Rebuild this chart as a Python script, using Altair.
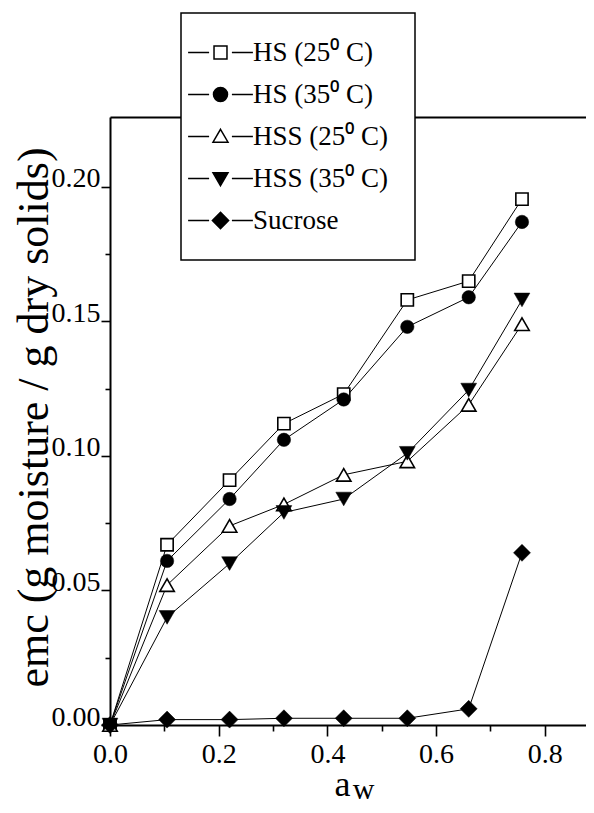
import altair as alt
import pandas as pd

# ---- data ----
aw = [0.0, 0.105, 0.22, 0.32, 0.43, 0.547, 0.66, 0.758]
hs_25 = [0.0, 0.067, 0.091, 0.112, 0.123, 0.158, 0.165, 0.1955]
hs_35 = [0.0, 0.061, 0.084, 0.106, 0.121, 0.148, 0.159, 0.187]
hss_25 = [0.0, 0.052, 0.074, 0.082, 0.093, 0.098, 0.119, 0.149]
hss_35 = [0.0, 0.040, 0.060, 0.079, 0.084, 0.101, 0.1245, 0.158]
sucrose = [0.0, 0.002, 0.002, 0.0025, 0.0025, 0.0025, 0.006, 0.064]

series_names = ["HS (25\u2070 C)", "HS (35\u2070 C)", "HSS (25\u2070 C)", "HSS (35\u2070 C)", "Sucrose"]
series_values = [hs_25, hs_35, hss_25, hss_35, sucrose]

x_ticks = [0.0, 0.2, 0.4, 0.6, 0.8]
x_minor = [0.1, 0.3, 0.5, 0.7]
y_ticks = [0.0, 0.05, 0.10, 0.15, 0.20]
y_minor = [0.025, 0.075, 0.125, 0.175]

rows = []
for name, vals in zip(series_names, series_values):
    for a, e in zip(aw, vals):
        rows.append({"aw": a, "emc": e, "series": name})
df = pd.DataFrame(rows)

FONT = "Liberation Serif"

xs = alt.Scale(domain=[0, 0.8758], nice=False, zero=False)
ys = alt.Scale(domain=[0, 0.226], nice=False, zero=False)

base = alt.Chart(df)

lines = base.mark_line(color="black", strokeWidth=1).encode(
    x=alt.X("aw:Q", scale=xs, axis=alt.Axis(
        orient="bottom", values=x_ticks, format=".1f", tickSize=11, tickWidth=1.6,
        domainWidth=2, labelFontSize=28, labelPadding=4, labelFlush=False,
        title="a", titleFontSize=36, titleFontWeight="normal",
        titleBaseline="alphabetic", titleY=70, titleX=232, titleAlign="center")),
    y=alt.Y("emc:Q", scale=ys, axis=alt.Axis(
        orient="left", values=y_ticks, format=".2f", tickSize=9, tickWidth=1.6,
        domainWidth=2, labelFontSize=28, labelPadding=1, labelBaseline="alphabetic",
        labelFlush=False,
        title="emc (g moisture / g dry solids)", titleFontSize=44,
        titleFontWeight="normal", titleAngle=270, titleBaseline="bottom",
        titleAlign="center", titleX=-54, titleY=300)),
    detail="series:N",
)

# marker styles per series: shape, fill, size
marker_shapes = ["square", "circle", "triangle-up", "triangle-down", "diamond"]
marker_fills = ["white", "black", "white", "black", "black"]
marker_sizes = [150, 180, 210, 250, 289]

point_layers = []
for name, shp, fil, sz in zip(series_names, marker_shapes, marker_fills, marker_sizes):
    point_layers.append(
        base.transform_filter(alt.datum.series == name)
        .mark_point(shape=shp, filled=True, fill=fil, stroke="black",
                    strokeWidth=1.6 if fil == "white" else 0.5, size=sz, opacity=1)
        .encode(
            x=alt.X("aw:Q", scale=xs, axis=None),
            y=alt.Y("emc:Q", scale=ys, axis=None),
        )
    )

# legend symbols: marker with a short line on each side
legend_paths = [
    "M-5.4,0L-1.9,0M-1.08,-1.08L1.08,-1.08L1.08,1.08L-1.08,1.08ZM1.9,0L5.4,0",
    "M-5.4,0L-1.9,0M1.17,0A1.17,1.17,0,1,1,-1.17,0A1.17,1.17,0,1,1,1.17,0ZM1.9,0L5.4,0",
    "M-5.4,0L-1.9,0M0,-1.2L1.25,0.95L-1.25,0.95ZM1.9,0L5.4,0",
    "M-5.4,0L-1.9,0M0,1.2L1.25,-0.95L-1.25,-0.95ZM1.9,0L5.4,0",
    "M-5.4,0L-1.9,0M0,-1.35L1.35,0L0,1.35L-1.35,0ZM1.9,0L5.4,0",
]
legend_strokes = ["black"] * 5

legend_def = alt.Legend(
    title=None, orient="none", legendX=71, legendY=-104,
    padding=26, rowPadding=14, symbolSize=144, symbolStrokeWidth=1.5,
    symbolOpacity=1, symbolOffset=0, labelOffset=19,
    labelFont=FONT, labelFontSize=27, labelColor="black",
    strokeColor="black", fillColor="white",
)

legend_layer = base.mark_point(filled=True, opacity=0, size=144).encode(
    x=alt.X("aw:Q", scale=xs, axis=None),
    y=alt.Y("emc:Q", scale=ys, axis=None),
    shape=alt.Shape("series:N", scale=alt.Scale(domain=series_names, range=legend_paths),
                    legend=legend_def),
    fill=alt.Fill("series:N", scale=alt.Scale(domain=series_names, range=marker_fills),
                  legend=legend_def),
    stroke=alt.Stroke("series:N", scale=alt.Scale(domain=series_names, range=legend_strokes),
                      legend=legend_def),
)

minor_layer = base.mark_point(opacity=0, size=0).encode(
    x=alt.X("aw:Q", scale=xs, axis=alt.Axis(
        orient="bottom", values=x_minor, labels=False, domain=False, tickSize=6,
        tickWidth=1.6, title="w", titleFontSize=30, titleFontWeight="normal",
        titleBaseline="alphabetic", titleY=73.5, titleX=253, titleAlign="center")),
    y=alt.Y("emc:Q", scale=ys, axis=alt.Axis(
        orient="left", values=y_minor, labels=False, domain=False, tickSize=5,
        tickWidth=1.6, title=None)),
)

top_layer = base.mark_point(opacity=0, size=0).encode(
    x=alt.X("aw:Q", scale=xs, axis=alt.Axis(
        orient="top", ticks=False, labels=False, domain=True, domainWidth=2, title=None)),
    y=alt.Y("emc:Q", scale=ys, axis=None),
)

chart = (
    alt.layer(lines, *point_layers, legend_layer, minor_layer, top_layer)
    .resolve_axis(x="independent", y="independent")
    .properties(
        width=476, height=608,
        autosize=alt.AutoSizeParams(type="none"),
        padding={"left": 102, "top": 109, "right": 0, "bottom": 80},
        background="white",
    )
    .configure_view(stroke=None)
    .configure_axis(grid=False, domainColor="black", tickColor="black",
                    labelColor="black", titleColor="black",
                    labelFont=FONT, titleFont=FONT)
    .configure_legend(strokeWidth=1.5)
)

chart.save("out.html", embed_options={"renderer": "svg", "actions": False})
